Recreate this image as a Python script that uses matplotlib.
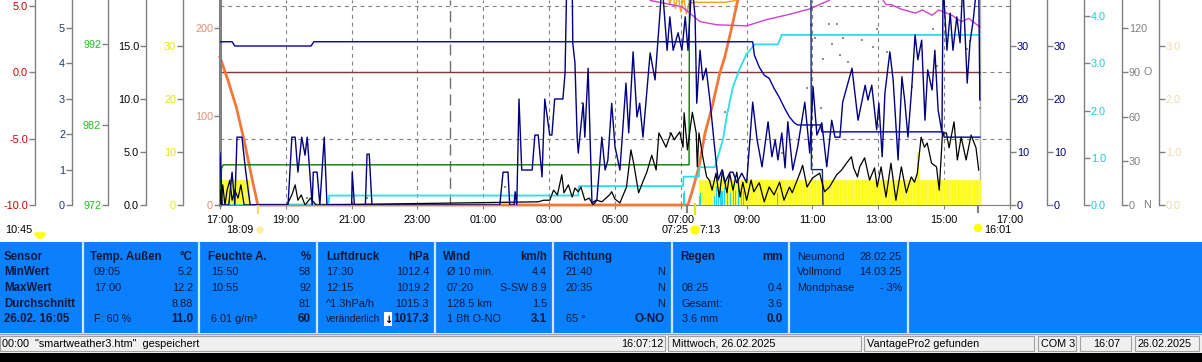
import numpy as np
import matplotlib
matplotlib.use("Agg")
import matplotlib.pyplot as plt
from matplotlib.patches import Rectangle, Wedge, Circle
import matplotlib.transforms as mtransforms

plt.rcParams['font.family'] = ['Liberation Sans', 'DejaVu Sans']

# ---------------- data ----------------
x_tick_labels = ["17:00", "19:00", "21:00", "23:00", "01:00", "03:00", "05:00",
                 "07:00", "09:00", "11:00", "13:00", "15:00", "17:00"]

gust = [("17:00", 9.8), ("17:04", 0), ("17:16", 0), ("17:22", 6.2), ("17:27", 0), ("17:31", 12.8),
        ("17:40", 12.8), ("17:47", 6.2), ("17:55", 0), ("19:04", 0), ("19:11", 12.8), ("19:17", 12.8),
        ("19:22", 6.2), ("19:29", 12.8), ("19:35", 9.4), ("19:39", 12.8), ("19:42", 8.5), ("19:48", 0),
        ("19:50", 6.2), ("19:57", 6.2), ("20:02", 0), ("20:10", 12.8), ("20:15", 0), ("21:00", 0),
        ("21:01", 6.2), ("21:05", 0), ("21:25", 0), ("21:28", 9.6), ("21:32", 9.6), ("21:37", 0),
        ("01:30", 0), ("01:36", 6.2), ("01:45", 6.2), ("01:48", 0), ("01:56", 0), ("01:58", 2.5),
        ("02:01", 0), ("02:05", 20), ("02:10", 6.6), ("02:29", 6.6), ("02:34", 13.2), ("02:40", 13.2),
        ("02:47", 5.3), ("02:52", 20), ("03:01", 13.2), ("03:05", 13.2), ("03:10", 20), ("03:25", 20),
        ("03:29", 24.9), ("03:32", 42), ("03:42", 42), ("03:43", 30.6), ("03:47", 26.8), ("03:51", 12.8),
        ("03:53", 9.8), ("04:02", 19.2), ("04:05", 12.8), ("04:11", 25.8), ("04:18", 0.4), ("04:27", 1),
        ("04:36", 12.8), ("04:42", 6.6), ("04:47", 8.5), ("04:54", 19.2), ("05:00", 11), ("05:09", 6.6),
        ("05:20", 23), ("05:25", 13.6), ("05:33", 28.9), ("05:40", 16.6), ("05:45", 19.2), ("05:51", 12.8),
        ("06:04", 28.7), ("06:13", 23.6), ("06:26", 42), ("06:29", 37.4), ("06:35", 29.2), ("06:40", 35.5),
        ("06:46", 29.2), ("06:55", 32.5), ("07:02", 29.2), ("07:08", 35.5), ("07:13", 29.2), ("07:20", 42),
        ("07:26", 35.5), ("07:29", 19.2), ("07:35", 29.2), ("07:40", 23.6), ("07:46", 25.8), ("07:53", 19.8),
        ("08:02", 10.4), ("08:08", 4.7), ("08:15", 6.6), ("08:20", 4.2), ("08:30", 6.2), ("08:35", 6.2),
        ("08:42", 4.2), ("08:51", 6), ("09:00", 4.2), ("09:11", 19.4), ("09:19", 12.3), ("09:28", 7.2),
        ("09:39", 15.7), ("09:46", 9.1), ("09:52", 12.3), ("09:57", 8.5), ("10:04", 13.6), ("10:10", 7),
        ("10:15", 15.7), ("10:24", 6.6), ("10:33", 11), ("10:46", 19.4), ("10:55", 9.8), ("11:01", 22.3),
        ("11:08", 13.2), ("11:17", 15.5), ("11:26", 7.2), ("11:35", 16), ("11:41", 12.8), ("11:50", 12.8),
        ("11:55", 19.4), ("12:12", 25.8), ("12:23", 16), ("12:36", 22.6), ("12:41", 19.8), ("12:48", 22.6),
        ("12:57", 14.2), ("13:01", 19.2), ("13:07", 9.1), ("13:12", 21.1), ("13:21", 28.9), ("13:27", 23.6),
        ("13:36", 8.5), ("13:43", 24.2), ("13:48", 19.8), ("13:54", 12.8), ("14:01", 22.3), ("14:07", 32.1),
        ("14:12", 27.4), ("14:19", 31.1), ("14:25", 16), ("14:30", 25.5), ("14:38", 21.7), ("14:43", 29.2),
        ("14:49", 17.9), ("14:56", 13.6), ("14:58", 42), ("15:05", 29.2), ("15:11", 36.2), ("15:16", 29.2),
        ("15:23", 35.5), ("15:29", 30.6), ("15:34", 42), ("15:42", 23), ("15:47", 30.6), ("15:53", 34.9),
        ("16:00", 42), ("16:03", 42), ("16:05", 19.8)]

wind_avg = [("17:00", 2.8), ("17:02", 0), ("17:05", 3.8), ("17:09", 0), ("17:13", 2.8), ("17:18", 4.7),
            ("17:22", 0.9), ("17:27", 2.8), ("17:33", 1.3), ("17:38", 3.8), ("17:44", 0), ("19:02", 0),
            ("19:11", 1.9), ("19:17", 3.8), ("19:22", 0.9), ("19:28", 1.9), ("19:35", 0), ("19:45", 1.3),
            ("19:55", 0), ("02:30", 0.6), ("02:40", 0.6), ("02:50", 0.9), ("03:01", 0.9), ("03:08", 2.8),
            ("03:15", 1.9), ("03:23", 5.7), ("03:27", 2.3), ("03:35", 3.8), ("03:42", 1.5), ("03:47", 3.2),
            ("03:53", 2.5), ("03:58", 3.4), ("04:05", 0.9), ("04:13", 1.3), ("04:20", 0), ("04:27", 0.9),
            ("04:36", 0.6), ("04:50", 1.9), ("04:54", 2.5), ("05:00", 1.1), ("05:09", 0.4), ("05:21", 3.4),
            ("05:29", 10.4), ("05:34", 7.9), ("05:43", 2.3), ("05:52", 4.7), ("05:58", 6.2), ("06:07", 9.4),
            ("06:15", 6.6), ("06:20", 13.6), ("06:24", 12.8), ("06:33", 10.9), ("06:42", 13.6), ("06:48", 12.3),
            ("06:58", 13.8), ("07:04", 10.9), ("07:06", 17.4), ("07:12", 10.4), ("07:21", 17.5), ("07:28", 13.6),
            ("07:30", 7.2), ("07:33", 13.6), ("07:40", 9.1), ("07:47", 5.3), ("07:52", 4.7), ("07:57", 2.8),
            ("08:04", 6), ("08:10", 1.5), ("08:16", 6.6), ("08:24", 2.3), ("08:29", 6), ("08:35", 2.8),
            ("08:42", 6.2), ("08:48", 1.5), ("08:53", 4.3), ("09:00", 0.9), ("09:08", 4.7), ("09:13", 2.5),
            ("09:23", 4.2), ("09:32", 0.6), ("09:41", 3.4), ("09:50", 1.9), ("10:00", 4.3), ("10:08", 0.9),
            ("10:18", 3.4), ("10:23", 2.3), ("10:37", 6), ("10:42", 7.5), ("10:50", 3.4), ("11:00", 5.1),
            ("11:13", 6), ("11:22", 2.5), ("11:31", 3.4), ("11:44", 5.7), ("11:53", 6.6), ("12:02", 7.9),
            ("12:11", 9.1), ("12:15", 7), ("12:22", 5.3), ("12:26", 7.2), ("12:35", 8.9), ("12:44", 4.7),
            ("12:53", 7), ("12:58", 3.4), ("13:05", 7.2), ("13:14", 1.5), ("13:23", 7.9), ("13:32", 0.9),
            ("13:42", 7.2), ("13:51", 2.3), ("14:00", 5.3), ("14:06", 4.3), ("14:11", 6), ("14:18", 12.8),
            ("14:24", 10.9), ("14:29", 11.7), ("14:37", 7.9), ("14:46", 7.2), ("14:51", 2.8), ("14:57", 13.6),
            ("15:04", 13.6), ("15:09", 10.8), ("15:18", 15.7), ("15:24", 8.5), ("15:31", 12.8), ("15:40", 8.5),
            ("15:49", 13.2), ("15:58", 10.8), ("16:03", 6.6)]

wind_level = [("17:00", 30.8), ("17:22", 30.8), ("17:27", 30.0), ("19:46", 30.0), ("19:51", 30.8),
              ("09:11", 30.8), ("09:14", 28.3), ("09:23", 26.0), ("09:32", 24.5), ("09:41", 23.9),
              ("09:50", 22.0), ("10:00", 20.2), ("10:09", 18.3), ("10:18", 16.6), ("10:27", 15.5),
              ("10:33", 15.1), ("11:15", 15.1), ("11:17", 13.8), ("14:58", 13.8), ("15:00", 12.8),
              ("16:05", 12.8)]

temp_line = [("17:00", 0.0), ("16:05", 0.0)]
green_line = [("17:00", 972.0), ("17:01", 975.0), ("17:03", 976.6), ("17:06", 977.0), ("07:15", 977.0),
              ("07:16", 1010.0), ("16:05", 1010.0)]
rain_total = [("17:00", 0.0), ("20:18", 0.0), ("20:19", 0.2), ("03:53", 0.2), ("03:54", 0.4), ("07:04", 0.4),
              ("07:05", 0.6), ("07:33", 0.6), ("07:34", 0.8), ("08:02", 0.8), ("08:17", 1.4), ("08:24", 1.9),
              ("08:35", 2.5), ("08:48", 2.9), ("09:00", 3.2), ("09:15", 3.4), ("09:57", 3.4), ("10:04", 3.6),
              ("16:05", 3.6)]
rain_rate = [("07:05", 0.25), ("07:07", 0.3), ("07:34", 0.2), ("07:36", 0.25), ("08:02", 0.2), ("08:05", 0.4),
             ("08:08", 0.3), ("08:12", 0.38), ("08:15", 0.3), ("08:20", 0.38), ("08:25", 0.35), ("08:30", 0.25),
             ("08:36", 0.38), ("08:40", 0.3), ("08:45", 0.35), ("08:50", 0.38), ("08:55", 0.3), ("09:57", 0.25)]
solar = [("17:00", 167), ("17:15", 140), ("17:30", 110), ("17:45", 70), ("18:00", 25), ("18:09", 0),
         ("07:13", 0), ("07:20", 14), ("07:33", 43), ("07:44", 81), ("07:57", 111), ("08:11", 149),
         ("08:20", 167), ("08:33", 201), ("08:45", 235), ("09:00", 300), ("16:05", 300)]
solar2 = [("06:30", 260), ("06:40", 226), ("06:45", 240), ("06:50", 222), ("06:55", 238), ("07:00", 218),
          ("07:05", 236), ("07:10", 216), ("07:15", 228), ("07:25", 229), ("08:20", 229), ("08:40", 231),
          ("09:00", 260)]
inside = [("17:00", 20.5), ("06:00", 20.0), ("06:04", 19.3), ("07:02", 18.7), ("07:35", 17.3), ("08:06", 17.0),
          ("09:00", 16.9), ("09:37", 17.5), ("10:19", 18.0), ("10:55", 18.5), ("11:30", 19.3), ("11:40", 20.0),
          ("13:05", 20.0), ("13:09", 19.3), ("13:14", 18.9), ("13:24", 18.9), ("13:40", 18.5), ("14:08", 18.1),
          ("14:20", 18.4), ("14:38", 17.9), ("14:50", 18.4), ("15:14", 17.9), ("15:31", 17.3), ("15:45", 17.6),
          ("16:05", 16.8)]
uv_line = [("10:57", 7.0), ("10:58", 1.0), ("11:18", 1.0), ("11:19", 0.0)]
direction = [("19:38", 5), ("21:28", 5), ("01:39", 12), ("04:00", 69), ("06:40", 49), ("08:20", 63),
             ("10:04", 35), ("10:50", 79), ("10:57", 122), ("11:05", 113), ("11:15", 66), ("11:19", 99),
             ("11:30", 123), ("11:35", 109), ("11:44", 123), ("11:50", 102), ("11:55", 113), ("12:04", 97),
             ("12:30", 112), ("12:50", 107), ("12:57", 119), ("13:16", 104), ("14:01", 80), ("14:40", 119),
             ("14:47", 94), ("15:42", 106), ("15:47", 111), ("16:05", 66)]
yellow_runs = [("17:00", "17:50", 4.7), ("07:33", "16:03", 4.7)]
yellow_peaks = [("14:10", 10.0), ("14:12", 10.0)]

# info panel
sensor_rows = ["MinWert", "MaxWert", "Durchschnitt", "26.02. 16:05"]
col_heads = [("Temp. Außen", "°C"), ("Feuchte A.", "%"), ("Luftdruck", "hPa"),
             ("Wind", "km/h"), ("Richtung", ""), ("Regen", "mm")]
temp_rows = [("09:05", "5.2"), ("17:00", "12.2"), ("", "8.88"), ("F: 60 %", "11.0")]
hum_rows = [("15:50", "58"), ("10:55", "92"), ("", "81"), ("6.01 g/m³", "60")]
press_rows = [("17:30", "1012.4"), ("12:15", "1019.2"), ("^1.3hPa/h", "1015.3"), ("veränderlich", "1017.3")]
wind_rows = [("Ø 10 min.", "4.4"), ("07:20", "S-SW 8.9"), ("128.5 km", "1.5"), ("1 Bft O-NO", "3.1")]
dir_rows = [("21:40", "N"), ("20:35", "N"), ("", "N"), ("65 °", "O-NO")]
rain_rows = [("", ""), ("08:25", "0.4"), ("Gesamt:", "3.6"), ("3.6 mm", "0.0")]
moon_rows = [("Neumond", "28.02.25"), ("Vollmond", "14.03.25"), ("Mondphase", "- 3%")]
status_texts = ['00:00  "smartweather3.htm"  gespeichert', "16:07:12", "Mittwoch, 26.02.2025",
                "VantagePro2 gefunden", "COM 3", "16:07", "26.02.2025"]
sun_texts = ["10:45", "18:09", "07:25", "7:13", "16:01"]


def hrs(s):
    h, m = map(int, s.split(':'))
    return ((h * 60 + m) - 17 * 60) % 1440 / 60.0


def unzip(pairs):
    return np.array([hrs(t) for t, _ in pairs]), np.array([v for _, v in pairs], dtype=float)


# ---------------- layout ----------------
W, H = 1202, 362
fig = plt.figure(figsize=(W / 100, H / 100), dpi=100)
PL, PR, PB, PT = 220, 1010, 205, 0
rect = [PL / W, 1 - PB / H, (PR - PL) / W, (PB - PT) / H]
GRAY = '#808080'
FS = 7.8


def frac(xpx):
    return (xpx - PL) / (PR - PL)


ax_t = fig.add_axes(rect)
ax_t.set_xlim(0, 24)


def style(ax, side, xpx, lim, ticks, labels, color, lw=1.0):
    for s in ax.spines.values():
        s.set_visible(False)
    sp = ax.spines[side]
    sp.set_visible(True)
    sp.set_position(('axes', frac(xpx)))
    sp.set_color(GRAY)
    sp.set_linewidth(lw)
    ax.yaxis.set_ticks_position(side)
    ax.set_ylim(*lim)
    ax.set_yticks(ticks)
    ax.set_yticklabels(labels)
    ax.tick_params(axis='y', colors=GRAY, labelcolor=color, length=4, width=1,
                   pad=1, labelsize=FS, direction='out')


def new_ax(side, xpx, lim, ticks, labels, color, lw=1.0):
    ax = fig.add_axes(rect, sharex=ax_t)
    ax.patch.set_visible(False)
    style(ax, side, xpx, lim, ticks, labels, color, lw)
    ax.tick_params(axis='x', bottom=False, labelbottom=False, top=False, labeltop=False)
    return ax


# temperature axis (red) carries grid and x axis
style(ax_t, 'left', 35, (-10, 5.45), [-10, -5, 0, 5], ["-10.0", "-5.0", "0.0", "5.0"], '#cc0000')
ax_t.spines['bottom'].set_visible(True)
ax_t.spines['bottom'].set_color(GRAY)
ax_t.set_xticks(np.arange(0, 25, 2))
ax_t.set_xticklabels(x_tick_labels)
ax_t.tick_params(axis='x', colors=GRAY, labelcolor='black', length=3, pad=4, labelsize=FS)
ax_t.grid(True, color='#808080', linestyle=(0, (3.5, 3.5)), linewidth=0.8)
ax_t.set_axisbelow(True)
ax_t.axvline(hrs("00:00"), color='#707070', linestyle=(0, (8, 4)), linewidth=1.0, zorder=1)
ax_t.axvline(hrs("16:05"), color='#b0b0b0', linewidth=1.0, zorder=1)
tx, tv = unzip(temp_line)
ax_t.plot(tx, tv, color='#803838', lw=1.0, zorder=3)

ax_y = new_ax('left', 183, (0, 38.68), [0, 10, 20, 30], ["0", "10", "20", "30"], '#e8e800')
for a, b, v in yellow_runs:
    xs = np.arange(hrs(a), hrs(b) + 1e-6, 5 / 60)
    ax_y.bar(xs, np.full(len(xs), v), width=5 / 60, align='edge', color='#ffff00',
             edgecolor='#f8f8b0', linewidth=0.35)
pk_x, pk_v = unzip(yellow_peaks)
ax_y.bar(pk_x, pk_v, width=2 / 60, align='edge', color='#ffff00', linewidth=0)

ax_o = new_ax('left', 220, (0, 231.6), [0, 100, 200], ["0", "100", "200"], '#e09070', lw=2.2)
sx, sv = unzip(solar)
ax_o.plot(sx, sv, color='#f07838', lw=2.0, clip_on=False)
s2x, s2v = unzip(solar2)
ax_o.plot(s2x, s2v, color='#f0a030', lw=1.0)

ax_c = new_ax('right', 1084, (0, 4.339), [0, 1, 2, 3, 4], ["0.0", "1.0", "2.0", "3.0", "4.0"], '#20c8d8')
rx, rv = unzip(rain_rate)
ax_c.bar(rx, rv, width=2 / 60, color='#20d8e8', linewidth=0)
cx, cv = unzip(rain_total)
ax_c.plot(cx, cv, color='#30dce8', lw=1.3)

ax_g = new_ax('left', 108, (972, 997.5), [972, 982, 992], ["972", "982", "992"], '#20c020')
gx, gv = unzip(green_line)
ax_g.plot(gx, gv, color='#008000', lw=1.0)

ax_k = new_ax('left', 146, (0, 19.34), [0, 5, 10, 15], ["0.0", "5.0", "10.0", "15.0"], 'black')
ix, iv = unzip(inside)
ax_k.plot(ix, iv, color='#d040d0', lw=1.0)

ax_d = new_ax('right', 1122, (0, 139), [0, 30, 60, 90, 120], ["0", "30", "60", "90", "120"], GRAY)
dx, dv = unzip(direction)
ax_d.plot(dx, dv, linestyle='none', marker='s', markersize=1.6, color='#909090', markeredgewidth=0)
btr = mtransforms.blended_transform_factory(ax_d.transAxes, ax_d.transData)
ax_d.text(frac(1143), 0, "N", transform=btr, color=GRAY, fontsize=FS, va='center', ha='left')
ax_d.text(frac(1143), 90, "O", transform=btr, color=GRAY, fontsize=FS, va='center', ha='left')

ax_u = new_ax('left', 72, (0, 5.79), [0, 1, 2, 3, 4, 5], ["0", "1", "2", "3", "4", "5"], '#1f3a68')
ux, uv = unzip(uv_line)
ax_u.plot(ux, uv, color='#102a70', lw=1.0)

ax_tan = new_ax('right', 1159, (0, 3.868), [0, 1, 2, 3], ["0.0", "1.0", "2.0", "3.0"], '#f0dca8')
ax_w2 = new_ax('right', 1047, (0, 38.68), [0, 10, 20, 30], ["0", "10", "20", "30"], '#000080')

ax_w = new_ax('right', 1010, (0, 38.68), [0, 10, 20, 30], ["0", "10", "20", "30"], '#000080')
kx, kv = unzip(wind_avg)
ax_w.plot(kx, kv, color='black', lw=0.9)
nx, nv = unzip(gust)
ax_w.plot(nx, nv, color='#000080', lw=1.0)
lx, lv = unzip(wind_level)
ax_w.plot(lx, lv, color='#0000a0', lw=1.0)

# ---------------- overlay (pixel coordinates) ----------------
ov = fig.add_axes([0, 0, 1, 1])
ov.set_xlim(0, W)
ov.set_ylim(H, 0)
ov.axis('off')
ov.patch.set_visible(False)

# sunrise / sunset markers under the time axis
ov.text(5, 230, sun_texts[0], fontsize=FS, va='center', ha='left')
ov.add_patch(Wedge((40, 233), 5, 0, 180, color='#ffff00'))
ov.text(226, 230, sun_texts[1], fontsize=FS, va='center', ha='left')
ov.add_patch(Circle((260, 230), 3, color='#f8f0a0'))
ov.plot([258, 258], [206, 213], color='#f0e060', lw=1.5)
ov.text(662, 230, sun_texts[2], fontsize=FS, va='center', ha='left')
ov.add_patch(Circle((695, 230), 4, color='#ffff00'))
ov.text(700, 230, sun_texts[3], fontsize=FS, va='center', ha='left')
ov.plot([687, 687], [206, 212], color=GRAY, lw=1.5)
ov.plot([695, 695], [204, 214], color='#f0e000', lw=1.5)
ov.add_patch(Circle((978, 228), 3.5, color='#ffff00'))
ov.text(984, 230, sun_texts[4], fontsize=FS, va='center', ha='left')
ov.plot([978, 978], [206, 212], color=GRAY, lw=1.5)

# blue info panel
BLUE = '#0a80ff'
TXT = '#0c1838'
ov.add_patch(Rectangle((0, 242), W, 91, facecolor=BLUE, edgecolor='none'))
for xs in [83, 199, 317, 435, 553, 672, 789, 908]:
    ov.plot([xs, xs], [242, 332], color='#d0e8ff', lw=1.6)
BFS = 8.3
PFS = 7.8
row_y = [272, 288, 304, 319]
head_y = 257
ov.text(4, head_y, "Sensor", fontsize=BFS, fontweight='bold', color=TXT, va='center')
for y, s in zip(row_y, sensor_rows):
    ov.text(4, y, s, fontsize=BFS, fontweight='bold', color=TXT, va='center')

cols = [(90, 94, 193, temp_rows), (208, 211, 311, hum_rows), (326, 326, 429, press_rows),
        (443, 447, 547, wind_rows), (562, 566, 665, dir_rows), (680, 682, 783, rain_rows)]
for (hx, lx0, rx0, rows), (hl, hu) in zip(cols, col_heads):
    ov.text(hx, head_y, hl, fontsize=BFS, fontweight='bold', color=TXT, va='center')
    ov.text(rx0, head_y, hu, fontsize=BFS, fontweight='bold', color=TXT, va='center', ha='right')
    for i, (y, (lt, rt)) in enumerate(zip(row_y, rows)):
        lfs = 7.2 if lt == "veränderlich" else PFS
        ov.text(lx0, y, lt, fontsize=lfs, color=TXT, va='center')
        ov.text(rx0, y, rt, fontsize=BFS if i == 3 else PFS, color=TXT, va='center', ha='right',
                fontweight='bold' if i == 3 else 'normal')
# tendency arrow box
ov.add_patch(Rectangle((384, 312), 8, 14, facecolor='white', edgecolor='none'))
ov.text(388, 319.5, "↓", fontsize=7.2, fontweight='bold', color='black', va='center', ha='center',
        family='DejaVu Sans')
for y, (lt, rt) in zip([257, 272, 288], moon_rows):
    ov.text(797, y, lt, fontsize=PFS, color=TXT, va='center')
    ov.text(902, y, rt, fontsize=PFS, color=TXT, va='center', ha='right')

# status bar
ov.add_patch(Rectangle((0, 333), W, 20, facecolor='#f0f0f0', edgecolor='none'))
ov.plot([0, W], [333.5, 333.5], color='#a0a0a0', lw=1)
for x0, x1 in [(0, 665), (668, 861), (864, 1034), (1038, 1076), (1080, 1131), (1135, 1199)]:
    ov.add_patch(Rectangle((x0, 336), x1 - x0, 15, facecolor='none', edgecolor='#a0a0a0', lw=0.8))
ov.add_patch(Rectangle((0, 353), W, 9, facecolor='black', edgecolor='none'))
sy = 344
ov.text(2, sy, status_texts[0], fontsize=FS, va='center', ha='left')
ov.text(663, sy, status_texts[1], fontsize=FS, va='center', ha='right')
ov.text(672, sy, status_texts[2], fontsize=FS, va='center', ha='left')
ov.text(867, sy, status_texts[3], fontsize=FS, va='center', ha='left')
ov.text(1041, sy, status_texts[4], fontsize=FS, va='center', ha='left')
ov.text(1093, sy, status_texts[5], fontsize=FS, va='center', ha='left')
ov.text(1138, sy, status_texts[6], fontsize=FS, va='center', ha='left')

fig.savefig("out.png", dpi=100)
